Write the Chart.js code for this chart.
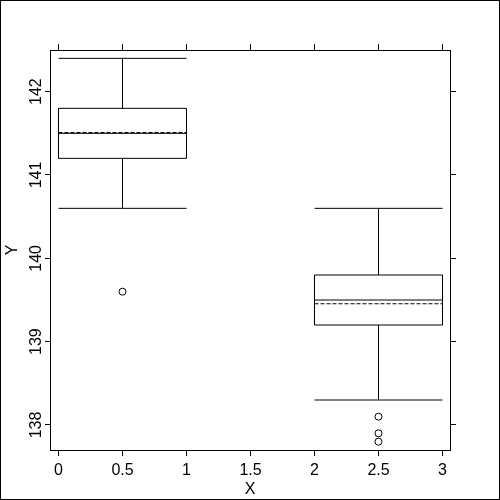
<!DOCTYPE html>
<html>
<head>
<meta charset="utf-8">
<script src="https://cdn.jsdelivr.net/npm/chart.js@4/dist/chart.umd.min.js"></script>
<style>
  html, body { margin: 0; padding: 0; background: #fff; }
  #wrap { width: 500px; height: 500px; }
</style>
</head>
<body>
<div id="wrap"><canvas id="chart" width="500" height="500"></canvas></div>
<script>
// box plot data
const groupX = [0.5, 2.5];
const boxHalf = [0.5, 0.5];
const whiskerLow = [140.6, 138.3];
const q1 = [141.2, 139.2];
const medians = [141.5, 139.5];
const means = [141.51, 139.455];
const q3 = [141.8, 139.8];
const whiskerHigh = [142.4, 140.6];
const outliers = [[139.6], [138.1, 137.9, 137.8]];

const xTicks = [0, 0.5, 1, 1.5, 2, 2.5, 3];
const yTicks = [138, 139, 140, 141, 142];
const xRange = [-0.0664, 3.0586];
const yRange = [137.7, 142.5];

const black = '#000';
const font = { family: 'Liberation Sans, Arial, sans-serif', size: 16 };

const fmt = v => String(v);

function lineSet(points, dash) {
    return {
        type: 'scatter',
        data: points,
        showLine: true,
        borderColor: black,
        borderWidth: 1,
        borderDash: dash || [],
        pointRadius: 0,
        fill: false
    };
}

const datasets = [];
groupX.forEach((gx, i) => {
    const x0 = gx - boxHalf[i], x1 = gx + boxHalf[i];
    // box
    datasets.push(lineSet([
        { x: x0, y: q1[i] }, { x: x1, y: q1[i] }, { x: x1, y: q3[i] },
        { x: x0, y: q3[i] }, { x: x0, y: q1[i] }
    ]));
    // median
    datasets.push(lineSet([{ x: x0, y: medians[i] }, { x: x1, y: medians[i] }]));
    // mean (dashed)
    datasets.push(lineSet([{ x: x0, y: means[i] }, { x: x1, y: means[i] }], [4, 2]));
    // whiskers
    datasets.push(lineSet([{ x: gx, y: q3[i] }, { x: gx, y: whiskerHigh[i] }]));
    datasets.push(lineSet([{ x: gx, y: whiskerLow[i] }, { x: gx, y: q1[i] }]));
    // caps
    datasets.push(lineSet([{ x: x0, y: whiskerHigh[i] }, { x: x1, y: whiskerHigh[i] }]));
    datasets.push(lineSet([{ x: x0, y: whiskerLow[i] }, { x: x1, y: whiskerLow[i] }]));
    // outliers
    datasets.push({
        type: 'scatter',
        data: outliers[i].map(v => ({ x: gx, y: v })),
        showLine: false,
        pointStyle: 'circle',
        pointRadius: 3.5,
        borderWidth: 1,
        borderColor: black,
        backgroundColor: '#fff'
    });
});

const setTicks = vals => scale => { scale.ticks = vals.map(v => ({ value: v })); };
const fixSize = (prop, n) => scale => { scale[prop] = n; };

function axis(position, range, vals, opts) {
    const horizontal = position === 'top' || position === 'bottom';
    return Object.assign({
        type: 'linear',
        position: position,
        min: range[0],
        max: range[1],
        afterBuildTicks: setTicks(vals),
        afterFit: fixSize(horizontal ? 'height' : 'width', 50),
        border: { display: true, color: black, width: 1 },
        grid: { drawOnChartArea: false, drawTicks: true, tickLength: 6, color: black, lineWidth: 1 },
        ticks: { display: false }
    }, opts);
}

// frame around the whole picture
const framePlugin = {
    id: 'frame',
    afterDraw(chart) {
        const ctx = chart.ctx;
        ctx.save();
        ctx.strokeStyle = black;
        ctx.lineWidth = 1;
        ctx.strokeRect(0.5, 0.5, chart.width - 1, chart.height - 1);
        ctx.restore();
    }
};

new Chart(document.getElementById('chart').getContext('2d'), {
    type: 'scatter',
    data: { datasets: datasets },
    plugins: [framePlugin],
    options: {
        responsive: false,
        animation: false,
        layout: { padding: 0 },
        plugins: { legend: { display: false }, tooltip: { enabled: false } },
        scales: {
            x: axis('bottom', xRange, xTicks, {
                ticks: { display: true, color: black, font: font, padding: 5, maxRotation: 0, callback: fmt },
                title: { display: true, text: 'X', color: black, font: font, padding: { top: 0, bottom: 1 } }
            }),
            x2: axis('top', xRange, xTicks),
            y: axis('left', yRange, yTicks, {
                grid: { drawOnChartArea: false, drawTicks: true, tickLength: 5, color: black, lineWidth: 1 },
                ticks: { display: true, color: black, font: font, padding: -5, minRotation: 90, maxRotation: 90, crossAlign: 'center', callback: fmt },
                title: { display: true, text: 'Y', color: black, font: font, padding: { top: 3, bottom: 0 } }
            }),
            y2: axis('right', yRange, yTicks)
        }
    }
});
</script>
</body>
</html>
